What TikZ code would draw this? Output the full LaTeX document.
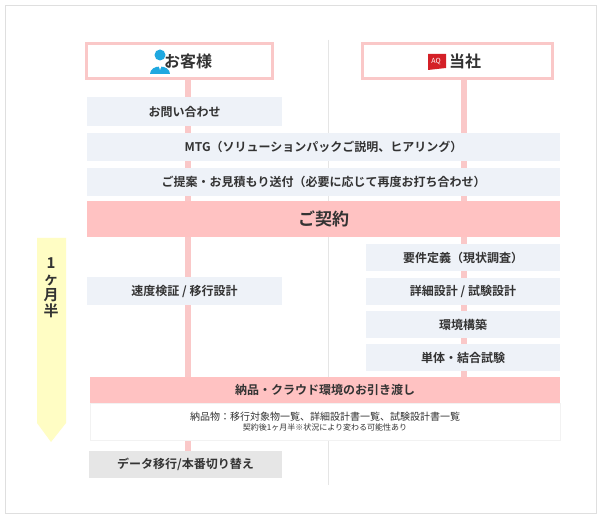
\documentclass[tikz,border=0pt]{standalone}
\usepackage{fontspec}
\setmainfont{Noto Sans CJK JP}[BoldFont={Noto Sans CJK JP Bold}]
\usetikzlibrary{shapes.arrows}
\definecolor{lane}{HTML}{FAC8C8}
\definecolor{stepbg}{HTML}{EEF2F8}
\definecolor{keybg}{HTML}{FFC2C2}
\definecolor{endbg}{HTML}{E6E6E6}
\definecolor{termbg}{HTML}{FFFDC4}
\definecolor{icblue}{HTML}{1FA8E0}
\definecolor{icred}{HTML}{D42027}
\definecolor{txt}{HTML}{333333}
\tikzset{
  stepbox/.style={fill=stepbg, text=txt, font=\bfseries\fontsize{12}{14}\selectfont, inner sep=0pt},
  headbox/.style={draw=lane, line width=3pt, fill=white, text=txt, font=\bfseries\fontsize{16}{18}\selectfont, inner sep=0pt},
  lanepath/.style={draw=lane, line width=6pt}
}
\begin{document}
\begin{tikzpicture}[x=1pt,y=-1pt]
  \useasboundingbox (0,0) rectangle (600,518);
  % frame and divider
  \draw[gray!25, fill=white] (5,5) rectangle (596,513);
  \draw[gray!20] (328,40) -- (328,485);
  % lanes
  \coordinate (LT) at (188,80);
  \coordinate (LB) at (188,452);
  \coordinate (RT) at (464,80);
  \coordinate (RB) at (464,378);
  \path[lanepath] (LT) -- (LB);
  \path[lanepath] (RT) -- (RB);
  % term arrow
  \fill[termbg] (37,238) -- (66,238) -- (66,423) -- (51,442) -- (37,423) -- cycle;
  \node[text=txt, font=\bfseries\fontsize{15}{16}\selectfont, align=center, inner sep=0pt] (term) at (51,288) {1\\ヶ\\月\\半};
  % headers
  \node[headbox, minimum width=186pt, minimum height=35pt] (cust) at (179,61.5) {\hspace{18pt}お客様};
  \node[headbox, minimum width=190pt, minimum height=35pt] (ours) at (457,61.5) {\hspace{16pt}当社};
  % icons
  \fill[icblue] (160,55) circle (5.5pt);
  \fill[icblue] (150,74) .. controls (150,64) and (170,64) .. (170,74) -- cycle;
  \fill[white] (158,64) -- (162,64) -- (160,70) -- cycle;
  \fill[icred] (428,54) -- (446,54) -- (446,68) -- (428,70) -- cycle;
  \node[text=white, font=\fontsize{7}{8}\selectfont, inner sep=0pt] (aq) at (436,62) {AQ};
  % steps
  \node[stepbox, minimum width=195pt, minimum height=29pt] (ask) at (184.5,111.5) {お問い合わせ};
  \node[stepbox, minimum width=473pt, minimum height=28pt] (mtg) at (323.5,147) {MTG（ソリューションパックご説明、ヒアリング）};
  \node[stepbox, minimum width=473pt, minimum height=28pt] (prop) at (323.5,182) {ご提案・お見積もり送付（必要に応じて再度お打ち合わせ）};
  \node[stepbox, fill=keybg, font=\bfseries\fontsize{17}{19}\selectfont, minimum width=473pt, minimum height=36pt] (deal) at (323.5,219) {ご契約};
  \node[stepbox, minimum width=194pt, minimum height=27pt] (req) at (463,257.5) {要件定義（現状調査）};
  \node[stepbox, minimum width=195pt, minimum height=28pt] (speed) at (184.5,291) {速度検証 / 移行設計};
  \node[stepbox, minimum width=194pt, minimum height=27pt] (design) at (463,291.5) {詳細設計 / 試験設計};
  \node[stepbox, minimum width=194pt, minimum height=27pt] (env) at (463,324.5) {環境構築};
  \node[stepbox, minimum width=194pt, minimum height=27pt] (test) at (463,357.5) {単体・結合試験};
  \node[stepbox, fill=keybg, minimum width=470pt, minimum height=26pt] (deliv) at (325,390) {納品・クラウド環境のお引き渡し};
  \node[fill=white, draw=gray!10, minimum width=470pt, minimum height=37pt, inner sep=0pt, text=txt, align=center] (note) at (325,421.5)
    {{\fontsize{10}{16}\selectfont 納品物：移行対象物一覧、詳細設計書一覧、試験設計書一覧}\\[-2pt]{\fontsize{8}{10}\selectfont 契約後1ヶ月半※状況により変わる可能性あり}};
  \node[stepbox, fill=endbg, minimum width=193pt, minimum height=27pt] (move) at (185.5,464.5) {データ移行/本番切り替え};
\end{tikzpicture}
\end{document}
